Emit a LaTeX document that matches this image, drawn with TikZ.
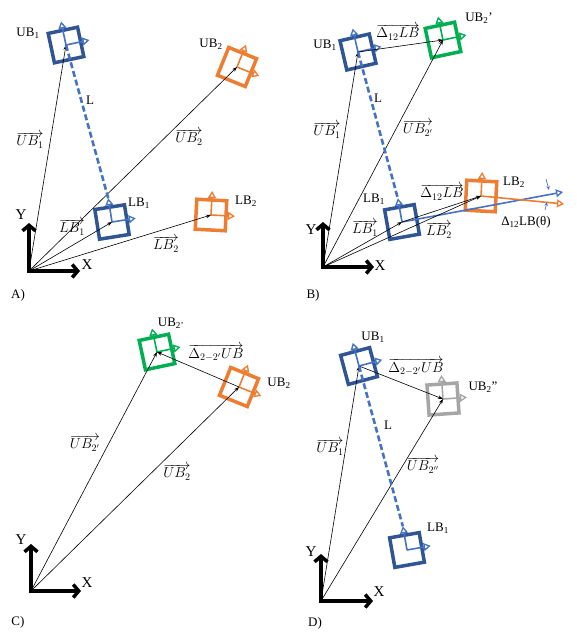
\documentclass[tikz,border=0pt]{standalone}
\usepackage{fontspec}
\setmainfont{Liberation Serif}
\usetikzlibrary{arrows.meta}
\definecolor{dblue}{HTML}{2F5597}
\definecolor{lblue}{HTML}{4472C4}
\definecolor{orng}{HTML}{ED7D31}
\definecolor{grn}{HTML}{00B050}
\definecolor{gry}{HTML}{A6A6A6}
\tikzset{
  sqline/.style={line width=3.5pt, line join=miter},
  axline/.style={line width=1.6pt, -{Triangle[open,length=7pt,width=8pt,line width=1.3pt]}},
  pics/frm/.style 2 args={code={
    \draw[sqline,draw=#1] (-15,-15) rectangle (15,15);
    \draw[axline,draw=#2] (0,0) -- (0,-24);
    \draw[axline,draw=#2] (0,0) -- (24,0);
    \coordinate (-c) at (0,0);
    \coordinate (-yt) at (0,-24);
  }},
  pics/yfrm/.style 2 args={code={
    \draw[sqline,draw=#1] (-15,-15) rectangle (15,15);
    \draw[axline,draw=#2] (0,0) -- (0,-24);
    \coordinate (-c) at (0,0);
    \coordinate (-yt) at (0,-24);
  }},
  vecline/.style={line width=0.6pt, -{Stealth[length=5pt,width=3.6pt]}},
  axesarr/.style={line width=3.5pt, line join=miter, {Straight Barb[length=5.5pt,width=13pt]}-{Straight Barb[length=5.5pt,width=13pt]}},
  dashL/.style={draw=lblue, line width=2.6pt, dash pattern=on 6pt off 3pt},
  longax/.style={line width=1.6pt, -{Triangle[open,length=7pt,width=8pt,line width=1.3pt]}},
  lab/.style={inner sep=0pt, font=\fontsize{13}{15}\selectfont},
  mlab/.style={inner sep=0pt, font=\fontsize{14.4}{17}\selectfont},
  axlab/.style={inner sep=0pt, font=\fontsize{15}{17}\selectfont},
}
\begin{document}
\begin{tikzpicture}[x=1pt,y=-1pt]
\useasboundingbox (0,0) rectangle (576,642);
\fill[white] (0,0) rectangle (576,642);

% ================= Panel A =================
\coordinate (oa) at (29,271);
\coordinate (ya) at (29,223);
\coordinate (xa) at (80,271);
\draw[axesarr] (ya) -- (oa) -- (xa);
\pic[rotate=12] (ua1) at (66,45) {frm={dblue}{lblue}};
\pic[rotate=9] (la1) at (112,222) {frm={dblue}{lblue}};
\pic[rotate=-22] (ua2) at (237,67) {frm={orng}{orng}};
\pic[rotate=-3] (la2) at (211,215) {frm={orng}{orng}};
\draw[vecline] (oa) -- (ua1-c);
\draw[vecline] (oa) -- (la1-c);
\draw[vecline] (oa) -- (ua2-c);
\draw[vecline] (oa) -- (la2-c);
\draw[dashL] (ua1-c) -- (la1-yt);
\node[axlab] (tya) at (21,215) {Y};
\node[axlab] (txa) at (87,265) {X};
\node[lab] (tpa) at (18,295) {A)};
\node[lab] (tua1) at (28,33) {UB\textsubscript{1}};
\node[lab] (tLa) at (90,100) {L};
\node[mlab] (tvua1) at (30,140) {$\overrightarrow{UB_1}$};
\node[mlab] (tvua2) at (189,137) {$\overrightarrow{UB_2}$};
\node[lab] (tua2) at (211,44) {UB\textsubscript{2}};
\node[lab] (tla1) at (139,203) {LB\textsubscript{1}};
\node[mlab] (tvla1) at (72,227) {$\overrightarrow{LB_1}$};
\node[lab] (tla2) at (246,201) {LB\textsubscript{2}};
\node[mlab] (tvla2) at (166,244) {$\overrightarrow{LB_2}$};

% ================= Panel B =================
\coordinate (ob) at (323,267);
\coordinate (yb) at (323,222);
\coordinate (xb) at (374,267);
\draw[axesarr] (yb) -- (ob) -- (xb);
\pic[rotate=13] (ub1) at (358,52) {frm={dblue}{lblue}};
\pic[rotate=12] (ub2) at (443,40) {frm={grn}{grn}};
\pic[rotate=10] (lb1) at (402,222) {yfrm={dblue}{lblue}};
\pic[rotate=-3] (lb2) at (481,196) {yfrm={orng}{orng}};
\coordinate (bl) at (563,192);
\coordinate (ol) at (564,204);
\draw[longax,draw=lblue] (lb1-c) -- (bl);
\draw[longax,draw=orng] (lb2-c) -- (ol);
\coordinate (m1s) at (546,179);
\coordinate (m1e) at (549,190);
\coordinate (m2s) at (545,210);
\coordinate (m2e) at (547,202);
\draw[lblue, line width=0.7pt, -{Stealth[length=4pt,width=3.5pt]}] (m1s) -- (m1e);
\draw[lblue, line width=0.7pt, -{Stealth[length=4pt,width=3.5pt]}] (m2s) -- (m2e);
\draw[vecline] (ob) -- (ub1-c);
\draw[vecline] (ob) -- (ub2-c);
\draw[vecline] (ob) -- (lb1-c);
\draw[vecline] (ob) -- (lb2-c);
\draw[vecline] (ub1-c) -- (ub2-c);
\draw[vecline] (lb1-c) -- (lb2-c);
\draw[dashL] (ub1-c) -- (lb1-yt);
\node[axlab] (tyb) at (311,230) {Y};
\node[axlab] (txb) at (380,266) {X};
\node[lab] (tpb) at (313,295) {B)};
\node[lab] (tub1) at (325,45) {UB\textsubscript{1}};
\node[mlab] (tdub) at (398,32) {$\overrightarrow{\Delta_{12}LB}$};
\node[lab] (tub2) at (479,18) {UB\textsubscript{2}’};
\node[lab] (tLb) at (378,98) {L};
\node[mlab] (tvub1) at (327,130) {$\overrightarrow{UB_1}$};
\node[mlab] (tvub2) at (418,128) {$\overrightarrow{UB_{2'}}$};
\node[lab] (tlb1) at (374,199) {LB\textsubscript{1}};
\node[mlab] (tdlb) at (442,192) {$\overrightarrow{\Delta_{12}LB}$};
\node[lab] (tlb2) at (514,182) {LB\textsubscript{2}};
\node[mlab] (tvlb1) at (365,228) {$\overrightarrow{LB_1}$};
\node[mlab] (tvlb2) at (439,230) {$\overrightarrow{LB_2}$};
\node[lab] (ttheta) at (526,222) {Δ\textsubscript{12}LB(θ)};

% ================= Panel C =================
\coordinate (oc) at (31,591);
\coordinate (yc) at (31,544);
\coordinate (xc) at (81,591);
\draw[axesarr] (yc) -- (oc) -- (xc);
\pic[rotate=12] (uc2p) at (157,352) {frm={grn}{grn}};
\pic[rotate=-22] (uc2) at (239,387) {frm={orng}{orng}};
\draw[vecline] (oc) -- (uc2p-c);
\draw[vecline] (oc) -- (uc2-c);
\draw[vecline] (uc2-c) -- (uc2p-c);
\node[axlab] (tyc) at (21,540) {Y};
\node[axlab] (txc) at (87,583) {X};
\node[lab] (tpc) at (18,622) {C)};
\node[lab] (tuc2p) at (171,323) {UB\textsubscript{2'}};
\node[mlab] (tduc) at (216,353) {$\overrightarrow{\Delta_{2-2'}UB}$};
\node[lab] (tuc2) at (279,383) {UB\textsubscript{2}};
\node[mlab] (tvuc2p) at (85,443) {$\overrightarrow{UB_{2'}}$};
\node[mlab] (tvuc2) at (177,472) {$\overrightarrow{UB_2}$};

% ================= Panel D =================
\coordinate (od) at (321,601);
\coordinate (yd) at (321,554);
\coordinate (xd) at (373,601);
\draw[axesarr] (yd) -- (od) -- (xd);
\pic[rotate=15] (ud1) at (359,366) {frm={dblue}{lblue}};
\pic[rotate=4] (ud2) at (443,399) {frm={gry}{gry}};
\pic[rotate=10] (ld1) at (407,550) {frm={dblue}{lblue}};
\draw[vecline] (od) -- (ud1-c);
\draw[vecline] (od) -- (ud2-c);
\draw[vecline] (ud1-c) -- (ud2-c);
\draw[dashL] (ud1-c) -- (ld1-yt);
\node[axlab] (tyd) at (311,552) {Y};
\node[axlab] (txd) at (379,592) {X};
\node[lab] (tpd) at (315,623) {D)};
\node[lab] (tud1) at (373,337) {UB\textsubscript{1}};
\node[mlab] (tdud) at (416,367) {$\overrightarrow{\Delta_{2-2'}UB}$};
\node[lab] (tud2) at (483,387) {UB\textsubscript{2}”};
\node[lab] (tLd) at (388,425) {L};
\node[mlab] (tvud1) at (330,447) {$\overrightarrow{UB_1}$};
\node[mlab] (tvud2) at (423,465) {$\overrightarrow{UB_{2''}}$};
\node[lab] (tld1) at (438,528) {LB\textsubscript{1}};
\end{tikzpicture}
\end{document}
